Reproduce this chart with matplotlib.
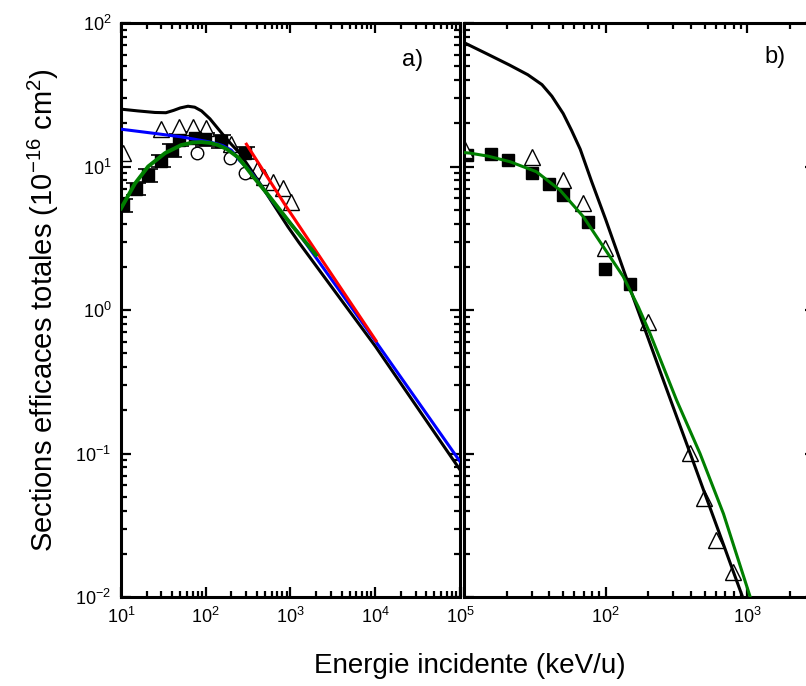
import matplotlib
matplotlib.use('Agg')
import matplotlib.pyplot as plt
from matplotlib.ticker import LogLocator, NullFormatter

plt.rcParams['font.family'] = ['Liberation Sans', 'DejaVu Sans']
plt.rcParams['mathtext.fontset'] = 'custom'
plt.rcParams['mathtext.rm'] = 'Liberation Sans'
plt.rcParams['mathtext.it'] = 'Liberation Sans:italic'
plt.rcParams['mathtext.bf'] = 'Liberation Sans:bold'

# ---- panel a) : theory curves (energy keV/u, cross section 1e-16 cm2)
a_black_e = [10, 15.8, 25.1, 33.9, 41.7, 50.1, 61.7, 74.1, 89.1, 112, 135, 158, 200, 251, 363, 933, 1259, 10000, 100000]
a_black_s = [25.1, 24.4, 23.8, 23.7, 24.6, 25.6, 26.3, 25.9, 24.4, 21.5, 18.8, 16.8, 14.3, 12.4, 9.0, 3.8, 2.95, 0.56, 0.077]

a_blue_e = [10, 25, 51, 100, 129, 158, 200, 251, 302, 363, 631, 1259, 10000, 100000]
a_blue_s = [18.2, 17.0, 16.1, 15.0, 14.5, 14.0, 13.0, 11.0, 9.9, 8.7, 5.6, 3.4, 0.61, 0.088]

a_green_e = [10, 14.6, 20.9, 33.1, 51.3, 70.8, 89.1, 112, 140, 178, 240, 302, 363, 562, 1072, 2000]
a_green_s = [5.1, 7.6, 10.0, 12.4, 14.1, 14.7, 14.8, 14.6, 14.1, 13.2, 11.6, 9.8, 8.5, 6.2, 3.8, 2.42]

a_red_e = [302, 891, 10230]
a_red_s = [14.3, 5.25, 0.61]

# ---- panel a) : experiments
a_sq_e = [10.5, 15, 21, 30, 40, 49, 74, 98, 151, 288]
a_sq_s = [5.4, 7.0, 8.7, 11.0, 13.0, 15.3, 15.9, 15.6, 15.0, 12.4]
a_sq_err = [0.55, 0.7, 0.9, 1.1, 1.3, 1.5, 1.6, 1.6, 1.5, 1.2]

a_tri_e = [10.7, 30, 49, 71, 100, 200, 400, 490, 617, 813, 1023]
a_tri_s = [12.4, 18.2, 18.8, 18.8, 18.5, 14.3, 9.5, 8.5, 7.8, 7.05, 5.7]

a_circ_e = [78, 191, 288]
a_circ_s = [12.4, 11.4, 9.0]

# ---- panel b)
b_black_e = [10, 14.5, 20.9, 28.2, 35.5, 41.7, 50.1, 57.5, 66.1, 79.4, 100, 126, 158, 200, 251, 316, 398, 501, 631, 794, 1000]
b_black_s = [73, 61, 51, 43.6, 37.2, 30.9, 23.4, 17.8, 13.2, 7.9, 4.27, 2.24, 1.19, 0.63, 0.339, 0.182, 0.098, 0.0525, 0.0282, 0.0151, 0.0081]

b_green_e = [10, 11, 14.8, 21.1, 32.4, 47.5, 69.5, 96.2, 133, 170, 205, 316, 463, 678, 1047, 1122]
b_green_s = [12.5, 12.4, 11.8, 10.8, 9.2, 6.86, 4.47, 2.76, 1.71, 1.05, 0.69, 0.236, 0.1, 0.038, 0.01, 0.0085]

b_sq_e = [10.5, 15.4, 20.4, 30.3, 40, 50, 75, 99, 149]
b_sq_s = [12.0, 12.2, 11.1, 9.06, 7.5, 6.33, 4.12, 1.92, 1.52]

b_tri_e = [10.2, 30, 50, 69, 99, 200, 394, 498, 599, 795]
b_tri_s = [13.0, 11.7, 8.05, 5.6, 2.69, 0.83, 0.101, 0.0488, 0.0249, 0.015]

W, H = 806, 686
fig = plt.figure(figsize=(W / 100, H / 100), dpi=100)
ax1 = fig.add_axes([121 / W, 89 / H, 339 / W, 574 / H])
ax2 = fig.add_axes([464 / W, 89 / H, 351 / W, 574 / H])

lw = 2.2
ax1.plot(a_black_e, a_black_s, color='black', lw=lw, zorder=3)
ax1.plot(a_blue_e, a_blue_s, color='#0000ff', lw=lw, zorder=3)
ax1.plot(a_red_e, a_red_s, color='#ff0000', lw=lw, zorder=3)
ax1.plot(a_green_e, a_green_s, color='#007f00', lw=2.8, zorder=4)

ax1.errorbar(a_sq_e, a_sq_s, yerr=a_sq_err, fmt='s', color='black', ms=9,
             ecolor='black', elinewidth=1.2, capsize=7, capthick=1.2, zorder=2)
ax1.plot(a_tri_e, a_tri_s, '^', ms=11, mfc='white', mec='black', mew=1.0, zorder=2)
ax1.plot(a_circ_e, a_circ_s, 'o', ms=9, mfc='white', mec='black', mew=1.0, zorder=2)

ax2.plot(b_black_e, b_black_s, color='black', lw=lw, zorder=3)
ax2.plot(b_green_e, b_green_s, color='#007f00', lw=lw, zorder=3)
ax2.plot(b_sq_e, b_sq_s, 's', color='black', ms=9, zorder=2)
ax2.plot(b_tri_e, b_tri_s, '^', ms=11, mfc='white', mec='black', mew=1.0, zorder=2)

for ax in (ax1, ax2):
    ax.set_xscale('log')
    ax.set_yscale('log')
    ax.set_ylim(1e-2, 1e2)
    for sp in ax.spines.values():
        sp.set_linewidth(2.2)
    ax.tick_params(which='both', direction='in', top=True, right=True, width=1.6)
    ax.tick_params(which='major', length=7, labelsize=13, pad=7)
    ax.tick_params(which='minor', length=4)
    ax.yaxis.set_minor_locator(LogLocator(base=10, subs=range(2, 10), numticks=20))
    ax.xaxis.set_minor_locator(LogLocator(base=10, subs=range(2, 10), numticks=20))
    ax.yaxis.set_minor_formatter(NullFormatter())
    ax.xaxis.set_minor_formatter(NullFormatter())

ax1.set_xlim(10, 1e5)
ax1.set_xticks([1e1, 1e2, 1e3, 1e4, 1e5])
ax1.set_xticklabels([r'$10^{\mathregular{%d}}$' % k for k in range(1, 6)])
ax1.set_yticks([1e-2, 1e-1, 1e0, 1e1, 1e2])
ax1.set_yticklabels([r'$10^{\mathregular{%d}}$' % k for k in range(-2, 3)])

ax2.set_xlim(10, 3000)
ax2.set_xticks([1e1, 1e2, 1e3])
ax2.set_xticklabels(['', r'$10^{\mathregular{2}}$', r'$10^{\mathregular{3}}$'])
ax2.set_yticks([1e-2, 1e-1, 1e0, 1e1, 1e2])
ax2.tick_params(labelleft=False)

ax1.text(0.86, 0.935, 'a)', transform=ax1.transAxes, fontsize=17, ha='center', va='center')
ax2.text(0.885, 0.94, 'b)', transform=ax2.transAxes, fontsize=17, ha='center', va='center')

ax1.set_ylabel(r'Sections efficaces totales (10$^{\mathregular{-16}}$ cm$^{\mathregular{2}}$)',
               fontsize=21, labelpad=10)
fig.text(470 / W, 1 - 666 / H, 'Energie incidente (keV/u)', fontsize=20, ha='center', va='center')

fig.savefig('out.png', dpi=100)
